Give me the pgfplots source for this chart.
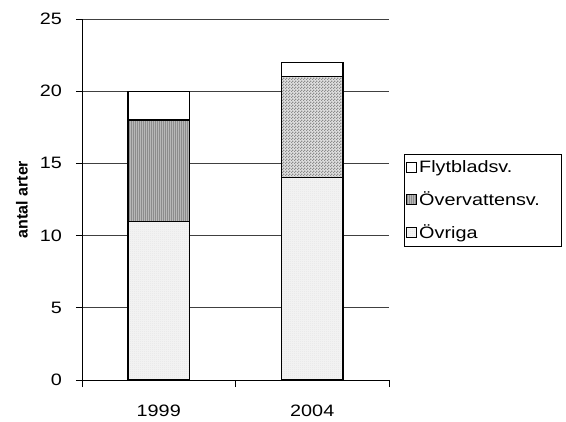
\documentclass[border=0pt]{standalone}
\usepackage{fontspec}
\setmainfont{Liberation Sans}[FakeStretch=1.2]
\newfontfamily\labelfont{Liberation Sans}
\usepackage{pgfplots}
\pgfplotsset{compat=1.18}
\usetikzlibrary{patterns}

% fine fill patterns for the stacked bars
\pgfdeclarepatternformonly{finevert}{\pgfqpoint{-0.1bp}{-0.1bp}}{\pgfqpoint{2.1bp}{2.1bp}}{\pgfqpoint{2bp}{2bp}}{%
  \pgfsetlinewidth{0.7bp}%
  \pgfpathmoveto{\pgfqpoint{1bp}{-0.1bp}}\pgfpathlineto{\pgfqpoint{1bp}{2.1bp}}\pgfusepath{stroke}}
\pgfdeclarepatternformonly{finechecker}{\pgfqpoint{0bp}{0bp}}{\pgfqpoint{3bp}{3bp}}{\pgfqpoint{3bp}{3bp}}{%
  \pgfpathrectangle{\pgfqpoint{0bp}{0bp}}{\pgfqpoint{1.5bp}{1.5bp}}%
  \pgfpathrectangle{\pgfqpoint{1.5bp}{1.5bp}}{\pgfqpoint{1.5bp}{1.5bp}}\pgfusepath{fill}}
\pgfdeclarepatternformonly{finedots}{\pgfqpoint{0bp}{0bp}}{\pgfqpoint{2bp}{2bp}}{\pgfqpoint{2bp}{2bp}}{%
  \pgfpathrectangle{\pgfqpoint{0bp}{0bp}}{\pgfqpoint{1bp}{1bp}}\pgfusepath{fill}}

\definecolor{ovrigafill}{HTML}{F2F2F2}
\definecolor{ovfill}{HTML}{B8B8B8}
\definecolor{ovfillb}{HTML}{E0E0E0}

\newcommand{\chartfont}{\fontsize{16.5bp}{19bp}\selectfont}

\begin{document}
\begin{tikzpicture}
\path[use as bounding box] (-82bp,-42bp) rectangle (484bp,380bp);
\begin{axis}[
  at={(0,0)}, anchor=south west,
  scale only axis,
  width=307bp, height=361bp,
  /pgf/number format/assume math mode=true,
  tick label style={font=\chartfont},
  ybar stacked,
  bar width=0.4,
  xmin=-0.5, xmax=1.5,
  ymin=0, ymax=25,
  xtick={0,1},
  xticklabels={1999,2004},
  minor xtick={-0.5,0.5,1.5},
  major x tick style={draw=none},
  ytick={0,5,...,25},
  axis x line*=bottom,
  axis y line*=left,
  axis line style={black, line width=0.8bp},
  tick align=outside,
  tick style={black, line width=0.8bp},
  major tick length=6bp,
  minor tick length=7bp,
  ymajorgrids,
  major grid style={black!75, line width=0.8bp},
  xticklabel style={anchor=north, inner sep=0pt, yshift=-19bp},
  yticklabel style={anchor=east, inner sep=0pt, xshift=-14bp},
  ylabel={\labelfont\fontsize{16bp}{19bp}\selectfont\bfseries antal arter},
  ylabel style={at={(rel axis cs:0,0.5)}, anchor=center, yshift=60bp},
  legend style={
    at={(rel axis cs:1.049,0.626)}, anchor=north west,
    draw=black, line width=0.8bp, fill=white,
    font=\chartfont,
    inner xsep=2bp, inner ysep=4bp,
    row sep=14bp,
    cells={anchor=west},
  },
  legend image code/.code={\draw[#1, line width=0.8bp] (0bp,-5bp) rectangle (10bp,5bp);},
  reverse legend,
  every axis plot/.append style={draw=black, line width=1.3bp},
]
% Övriga (bottom)
\addplot[fill=ovrigafill, postaction={pattern=finedots, pattern color=black!12}]
  coordinates {(0,11) (1,14)};
\addlegendentry{Övriga}
% Övervattensv., 1999 bar
\addplot[fill=ovfill, postaction={pattern=finevert, pattern color=black!45}]
  coordinates {(0,7) (1,0)};
\addlegendentry{Övervattensv.\hspace*{17bp}}
% Övervattensv., 2004 bar
\addplot[fill=ovfillb, postaction={pattern=finechecker, pattern color=black!45}, forget plot]
  coordinates {(0,0) (1,7)};
% Flytbladsv. (top)
\addplot[fill=white]
  coordinates {(0,2) (1,1)};
\addlegendentry{Flytbladsv.}
\end{axis}
\end{tikzpicture}
\end{document}
